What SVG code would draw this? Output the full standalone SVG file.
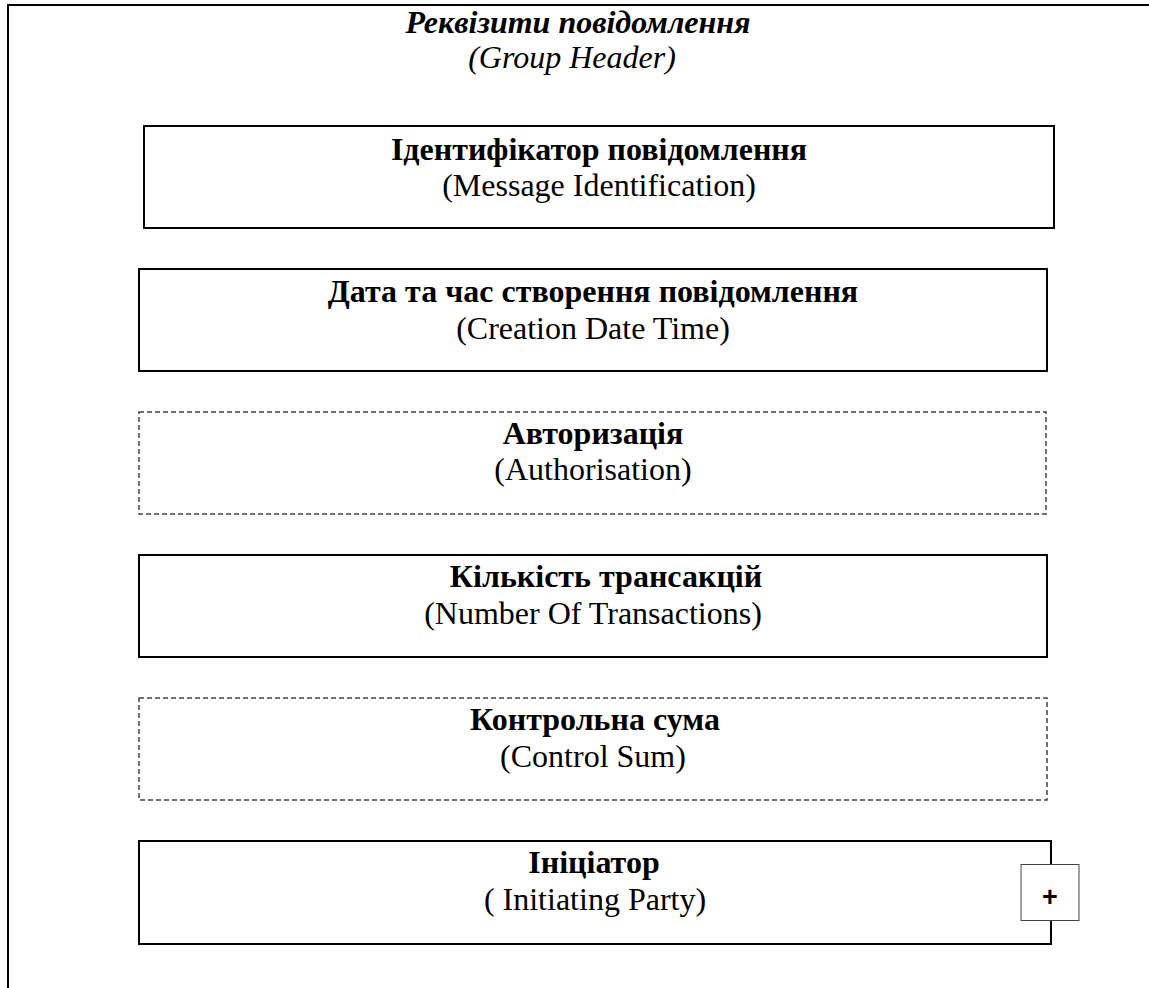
<svg xmlns="http://www.w3.org/2000/svg" width="1149" height="988" viewBox="0 0 1149 988">
<style>
.frame{fill:none;stroke:#000;stroke-width:2}
.box{fill:#fff;stroke:#000;stroke-width:2}
.opt{fill:#fff;stroke:#444;stroke-width:1.5;stroke-dasharray:5 3}
.t{font-family:"Liberation Serif","Times New Roman",serif;font-size:32px;fill:#000;text-anchor:middle}
.b{font-weight:bold}
.i{font-style:italic}
.plusbox{fill:#fff;stroke:#444;stroke-width:1}
.plus{font-family:"Liberation Sans",Arial,sans-serif;font-size:27px;font-weight:bold;text-anchor:middle;fill:#000}
</style>
<rect width="1149" height="988" fill="#fff"/>
<g id="group-header">
<path class="frame" d="M8,988 V5 H1149"/>
<text class="t b i" x="578" y="33">Реквізити повідомлення</text>
<text class="t i" x="572" y="68">(Group Header)</text>
</g>
<g id="connectors"></g>
<g id="msg-id">
<rect class="box" x="144" y="126" width="910" height="102"/>
<text class="t b" x="599" y="160">Ідентифікатор повідомлення</text>
<text class="t" x="599" y="196">(Message Identification)</text>
</g>
<g id="creation-date-time">
<rect class="box" x="139" y="269" width="908" height="102"/>
<text class="t b" x="593" y="302">Дата та час створення повідомлення</text>
<text class="t" x="593" y="339">(Creation Date Time)</text>
</g>
<g id="authorisation">
<rect class="opt" x="139" y="412" width="907" height="102"/>
<text class="t b" x="593" y="444">Авторизація</text>
<text class="t" x="593" y="480">(Authorisation)</text>
</g>
<g id="number-of-transactions">
<rect class="box" x="139" y="555" width="908" height="102"/>
<text class="t b" x="606" y="587">Кількість трансакцій</text>
<text class="t" x="593" y="624">(Number Of Transactions)</text>
</g>
<g id="control-sum">
<rect class="opt" x="139" y="698" width="908" height="102"/>
<text class="t b" x="595" y="730">Контрольна сума</text>
<text class="t" x="593" y="767">(Control Sum)</text>
</g>
<g id="initiating-party">
<rect class="box" x="139" y="841" width="912" height="103"/>
<text class="t b" x="594" y="873">Ініціатор</text>
<text class="t" x="595" y="910">( Initiating Party)</text>
<rect class="plusbox" x="1021" y="864.5" width="58" height="56"/>
<text class="plus" x="1050" y="906">+</text>
</g>
</svg>
